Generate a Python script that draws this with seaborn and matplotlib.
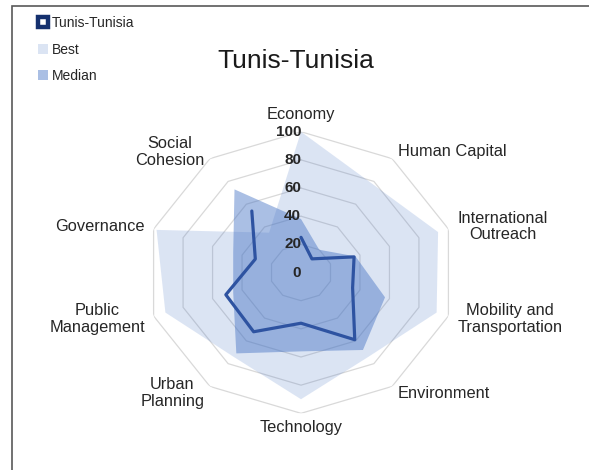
import numpy as np
import pandas as pd
import matplotlib
matplotlib.use("Agg")
import matplotlib.pyplot as plt
from matplotlib.lines import Line2D
from matplotlib.patches import Patch, Rectangle
import seaborn as sns

# Data
categories = ["Economy", "Human Capital", "International\nOutreach",
              "Mobility and\nTransportation", "Environment", "Technology",
              "Urban\nPlanning", "Public\nManagement", "Governance",
              "Social\nCohesion"]
tunis = [25, 12, 36, 35, 59, 36, 52, 51, 31, 54]
best = [100, 78, 93, 92, 74, 90, 74, 92, 98, 35]
median = [38, 20, 37, 57, 68, 56, 71, 46, 46, 73]
ring_ticks = [0, 20, 40, 60, 80, 100]
city = "Tunis-Tunisia"

# Colours
LINE_COLOR = "#2E53A1"
FILL_COLOR = "#4472C4"
GRID_COLOR = "#D9D9D9"

sns.set_theme(style="white")
plt.rcParams["font.family"] = ["Liberation Sans", "DejaVu Sans"]


def closed(values):
    return list(values) + [values[0]]


def main():
    n = len(categories)
    theta = np.linspace(0, 2 * np.pi, n, endpoint=False)
    theta_c = closed(theta)

    fig = plt.figure(figsize=(5.89, 4.70), dpi=100)
    ax = fig.add_axes([0.2479, 0.1206, 0.5263, 0.5991], projection="polar")
    ax.set_aspect("auto")
    ax.set_theta_offset(np.pi / 2)
    ax.set_theta_direction(-1)
    ax.set_ylim(0, 100)
    ax.grid(False)
    ax.spines["polar"].set_visible(False)
    ax.set_xticks([])
    ax.set_yticks([])
    ax.set_facecolor("none")

    # decagon rings
    for r in ring_ticks[1:]:
        ax.plot(theta_c, [r] * (n + 1), color=GRID_COLOR, lw=0.9, zorder=1)

    # series
    ax.fill(theta_c, closed(best), color=FILL_COLOR, alpha=0.19, lw=0, zorder=2)
    ax.fill(theta_c, closed(median), color=FILL_COLOR, alpha=0.45, lw=0, zorder=3)

    df = pd.DataFrame({"theta": theta_c, "value": closed(tunis)})
    sns.lineplot(data=df, x="theta", y="value", sort=False, ax=ax,
                 color=LINE_COLOR, lw=2.3, zorder=5)
    ax.set_xlabel("")
    ax.set_ylabel("")

    # radial value labels
    for r in ring_ticks:
        ax.text(0, r, str(r), ha="right", va="center", fontsize=11,
                fontweight="bold", color="#262626", zorder=6)

    # category labels
    for ang, lab in zip(theta, categories):
        deg = np.degrees(ang)
        if np.isclose(deg, 0):
            ha, va, rr = "center", "bottom", 107
        elif np.isclose(deg, 180):
            ha, va, rr = "center", "top", 105
        elif deg < 180:
            ha, va, rr = "left", "center", 106
        else:
            ha, va, rr = "right", "center", 106
        ax.text(ang, rr, lab, ha=ha, va=va, multialignment="center",
                fontsize=11.8, color="#262626", linespacing=1.15)

    fig.text(296 / 589, 1 - 61 / 470, city, ha="center", va="center",
             fontsize=19, color="#1a1a1a")

    handles = [
        Line2D([], [], ls="none", marker="s", markersize=7,
               markerfacecolor="white", markeredgecolor="#14306E",
               markeredgewidth=3.2),
        Patch(facecolor=FILL_COLOR, alpha=0.19, lw=0),
        Patch(facecolor=FILL_COLOR, alpha=0.45, lw=0),
    ]
    fig.legend(handles, [city, "Best", "Median"], loc="upper left",
               bbox_to_anchor=(38 / 589, 1 - 16 / 470), frameon=False,
               fontsize=10, handlelength=0.7, handleheight=0.7,
               handletextpad=0.3, labelspacing=0.9, borderaxespad=0,
               borderpad=0)

    # chart area border (cropped at right / bottom)
    fig.patches.append(Rectangle((12 / 589, -0.1), 1.2, 1.1 - 6 / 470,
                                 transform=fig.transFigure, fill=False,
                                 edgecolor="#595959", lw=1.2))

    fig.savefig("out.png", dpi=100)
    plt.close(fig)


if __name__ == "__main__":
    main()
